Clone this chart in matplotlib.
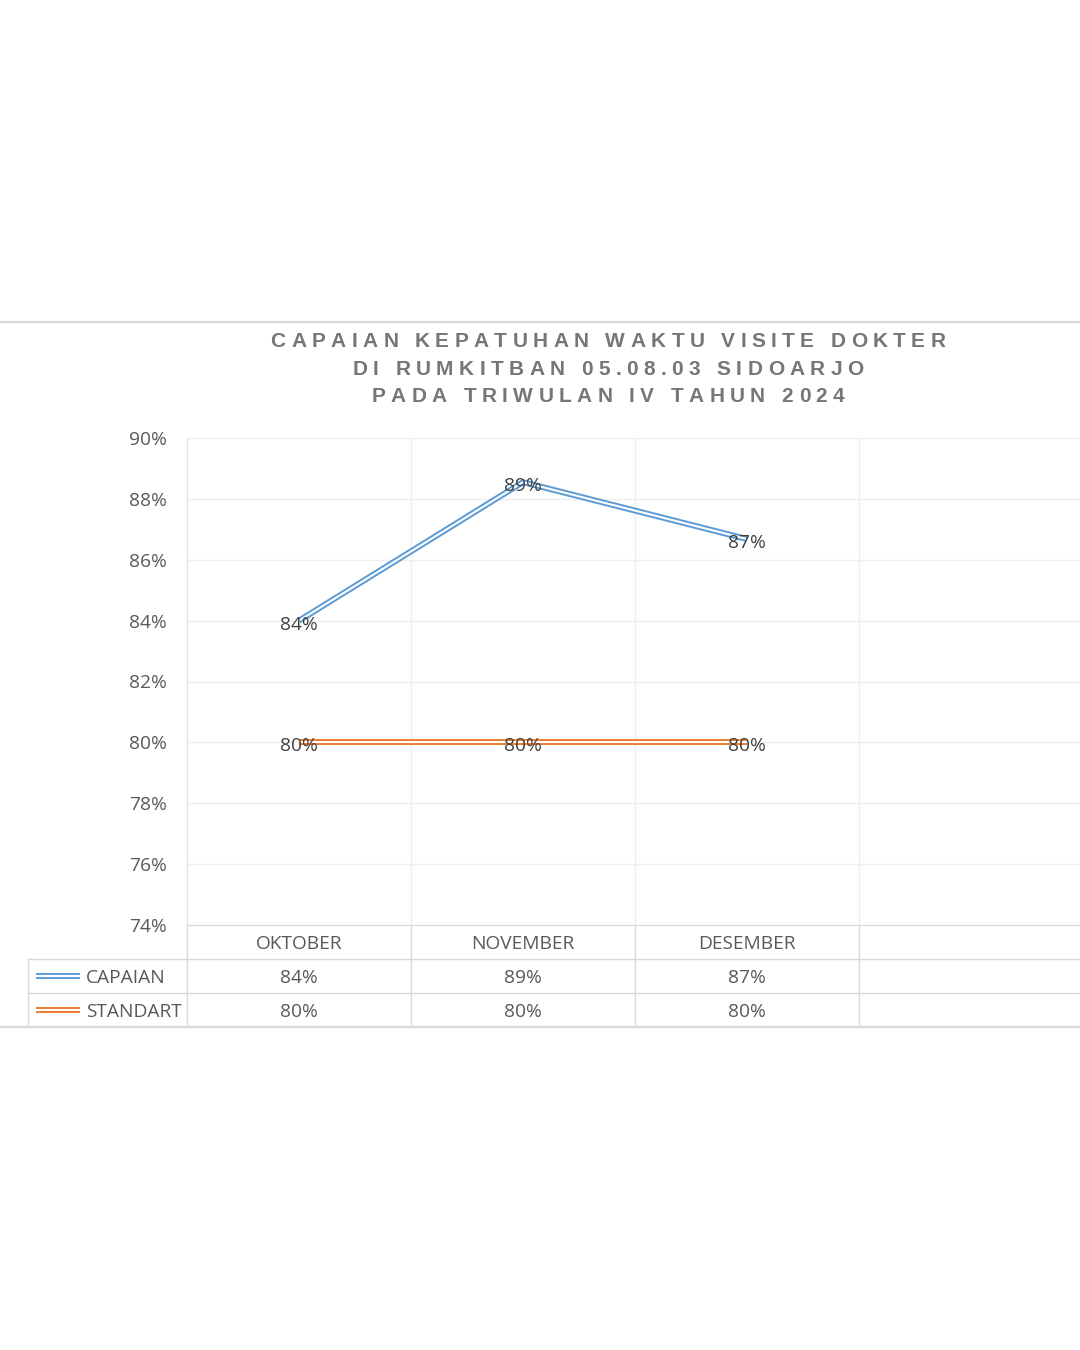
import numpy as np
import matplotlib
matplotlib.use("Agg")
import matplotlib.pyplot as plt
from matplotlib.lines import Line2D
from matplotlib.ticker import PercentFormatter
from matplotlib.transforms import blended_transform_factory, offset_copy

W, H = 1080, 1350

# data
bulan = ["OKTOBER", "NOVEMBER", "DESEMBER", ""]
capaian = [0.840, 0.8855, 0.8668, np.nan]
standart = [0.80, 0.80, 0.80, np.nan]
nama_seri = ["CAPAIAN", "STANDART"]
warna_seri = ["#5B9BD5", "#ED7D31"]
yticks = [0.74, 0.76, 0.78, 0.80, 0.82, 0.84, 0.86, 0.88, 0.90]
judul = ["CAPAIAN KEPATUHAN WAKTU VISITE DOKTER",
         "DI RUMKITBAN 05.08.03 SIDOARJO",
         "PADA TRIWULAN IV TAHUN 2024"]

FONT = "Open Sans"
TXT = "#595959"
GRID = "#efefef"
BORDER = "#d9d9d9"
FS = 13.8


def px(x, y):
    # pixel (from top-left) -> figure fraction
    return x / W, 1 - y / H


def double_line(ax_or_fig, x, y, color, transform=None, z=3):
    kw = dict(solid_capstyle="butt", solid_joinstyle="miter")
    if transform is not None:
        kw["transform"] = transform
    a = Line2D(x, y, color=color, lw=4.3, zorder=z, **kw)
    b = Line2D(x, y, color="white", lw=1.5, zorder=z + 0.1, **kw)
    ax_or_fig.add_artist(a)
    ax_or_fig.add_artist(b)


def spaced_text(fig, cx, base_y, s, track, **kw):
    r = fig.canvas.get_renderer()
    t = fig.text(0, 0, "||", **kw)
    w0 = t.get_window_extent(r).width
    t.remove()
    widths = []
    for ch in s:
        t = fig.text(0, 0, "|" + ch + "|", **kw)
        widths.append(t.get_window_extent(r).width - w0)
        t.remove()
    total = sum(widths) + track * (len(s) - 1)
    x = cx - total / 2
    for ch, w in zip(s, widths):
        if ch != " ":
            fig.text(*px(x, base_y), ch, ha="left", va="baseline", **kw)
        x += w + track


fig = plt.figure(figsize=(W / 100, H / 100), dpi=100)
fig.patch.set_facecolor("white")

ax = fig.add_axes([187 / W, 1 - 925 / H, 896 / W, 487 / H])
xs = np.arange(len(bulan))
ax.set_xlim(-0.5, len(bulan) - 0.5)
ax.set_ylim(yticks[0], yticks[-1])
ax.set_yticks(yticks)
ax.yaxis.set_major_formatter(PercentFormatter(1.0, decimals=0))
ax.set_xticks([])
ax.set_xticks(np.arange(-0.5, len(bulan), 1), minor=True)
ax.tick_params(axis="y", length=0, pad=14.5, labelsize=FS, labelcolor=TXT)
ax.tick_params(axis="x", which="both", length=0, labelbottom=False)
for lab in ax.get_yticklabels():
    lab.set_fontfamily(FONT)
ax.grid(axis="y", which="major", color=GRID, lw=1)
ax.grid(axis="x", which="minor", color=GRID, lw=1)
ax.set_axisbelow(True)
for s in ["top", "right"]:
    ax.spines[s].set_visible(False)
ax.spines["left"].set_color("#e3e3e3")
ax.spines["bottom"].set_color(BORDER)

lab_tr = offset_copy(ax.transData, fig=fig, x=0, y=-2, units="dots")
for vals, col in zip([capaian, standart], warna_seri):
    v = np.array(vals, dtype=float)
    ok = ~np.isnan(v)
    double_line(ax, xs[ok], v[ok], col)
    for xi, yi in zip(xs[ok], v[ok]):
        ax.text(xi, yi, f"{yi:.0%}", ha="center", va="center_baseline",
                fontsize=FS, color="#404040", family=FONT, zorder=5,
                transform=lab_tr)

# title
for i, line in enumerate(judul):
    spaced_text(fig, 608, [347, 375, 402][i], line, 5.4,
                fontsize=15, fontweight="bold", color="#767676",
                family="Liberation Sans")

# chart borders (top / bottom)
for yy in [322, 1027]:
    fig.add_artist(Line2D([0, 1], [1 - yy / H] * 2, color=BORDER, lw=1.6,
                          transform=fig.transFigure))

# data table
bt = blended_transform_factory(ax.transData, fig.transFigure)
for yy in [959, 993]:
    fig.add_artist(Line2D([28 / W, 1], [1 - yy / H] * 2, color=BORDER, lw=1,
                          transform=fig.transFigure))
fig.add_artist(Line2D([28 / W] * 2, [1 - 959 / H, 1 - 1027 / H], color=BORDER,
                      lw=1, transform=fig.transFigure))
for xb in np.arange(-0.5, len(bulan), 1):
    fig.add_artist(Line2D([xb, xb], [1 - 925 / H, 1 - 1027 / H], color=BORDER,
                          lw=1, transform=bt, clip_on=False))

row_y = [942, 976, 1010]
for xi, b in zip(xs, bulan):
    fig.text(xi, 1 - row_y[0] / H, b, transform=bt, ha="center",
             va="center_baseline", fontsize=FS, color=TXT, family=FONT)
for r, (nm, vals, col) in enumerate(zip(nama_seri, [capaian, standart], warna_seri)):
    yy = row_y[r + 1]
    double_line(fig, [36 / W, 80 / W], [1 - yy / H] * 2, col,
                transform=fig.transFigure)
    fig.text(*px(86, yy), nm, ha="left", va="center_baseline", fontsize=FS,
             color=TXT, family=FONT)
    for xi, v in zip(xs, vals):
        if not np.isnan(v):
            fig.text(xi, 1 - yy / H, f"{v:.0%}", transform=bt, ha="center",
                     va="center_baseline", fontsize=FS, color=TXT, family=FONT)

fig.savefig("out.png", dpi=100)
